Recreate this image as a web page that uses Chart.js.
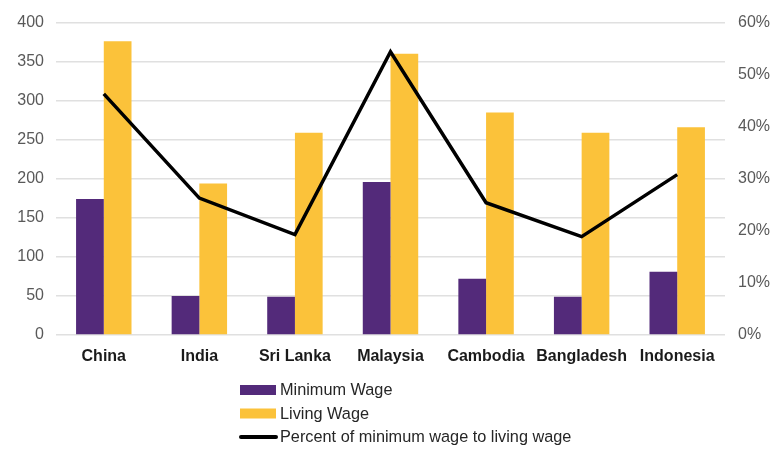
<!DOCTYPE html>
<html>
<head>
<meta charset="utf-8">
<script src="https://cdn.jsdelivr.net/npm/chart.js@4/dist/chart.umd.min.js"></script>
<style>
  html, body { margin: 0; padding: 0; background: #ffffff; }
  #wrap { width: 772px; height: 450px; position: relative; }
</style>
</head>
<body>
<div id="wrap"><canvas id="c" width="772" height="450"></canvas></div>
<script>
// Monthly wages by country (USD) and the share of the living wage that the minimum wage covers
const countries = ['China', 'India', 'Sri Lanka', 'Malaysia', 'Cambodia', 'Bangladesh', 'Indonesia'];
const minimumWage = [174, 50, 49, 196, 72, 49, 81];
const livingWage = [376, 194, 259, 360, 285, 259, 266];
const percentOfLiving = [46.3, 26.3, 19.3, 54.4, 25.4, 18.9, 30.8];

const leftTicks = [0, 50, 100, 150, 200, 250, 300, 350, 400];
const rightTicks = [0, 10, 20, 30, 40, 50, 60];

const FONT = '"Liberation Sans", Arial, sans-serif';

// Stacked legend drawn under the plot, one entry per row
const stackedLegend = {
  id: 'stackedLegend',
  afterDraw(chart) {
    const ctx = chart.ctx;
    const x0 = 240, rowH = 23.5, y0 = 390;
    ctx.save();
    ctx.font = '16.3px ' + FONT;
    ctx.textBaseline = 'middle';
    ctx.textAlign = 'left';
    chart.data.datasets.forEach((ds, i) => {
      const y = y0 + i * rowH;
      if (ds.type === 'line') {
        ctx.strokeStyle = ds.borderColor;
        ctx.lineWidth = 4;
        ctx.lineCap = 'round';
        ctx.beginPath();
        ctx.moveTo(x0 + 1, y);
        ctx.lineTo(x0 + 36, y);
        ctx.stroke();
      } else {
        ctx.fillStyle = ds.backgroundColor;
        ctx.fillRect(x0, y - 5, 36, 10);
      }
      ctx.fillStyle = '#262626';
      ctx.fillText(ds.label, x0 + 40, y + 1);
    });
    ctx.restore();
  }
};

new Chart(document.getElementById('c'), {
  data: {
    labels: countries,
    datasets: [
      {
        type: 'bar',
        label: 'Minimum Wage',
        data: minimumWage,
        backgroundColor: '#532a7a',
        yAxisID: 'y',
        order: 2,
        categoryPercentage: 0.58,
        barPercentage: 1.0
      },
      {
        type: 'bar',
        label: 'Living Wage',
        data: livingWage,
        backgroundColor: '#fbc23a',
        yAxisID: 'y',
        order: 2,
        categoryPercentage: 0.58,
        barPercentage: 1.0
      },
      {
        type: 'line',
        label: 'Percent of minimum wage to living wage',
        data: percentOfLiving,
        borderColor: '#000000',
        backgroundColor: '#000000',
        borderWidth: 3.5,
        tension: 0,
        pointRadius: 0,
        pointHoverRadius: 0,
        fill: false,
        yAxisID: 'y1',
        order: 1
      }
    ]
  },
  options: {
    responsive: false,
    animation: false,
    devicePixelRatio: 1,
    layout: { padding: { top: 22, left: 0, right: 0, bottom: 0 } },
    plugins: {
      legend: { display: false },
      tooltip: { enabled: false }
    },
    scales: {
      x: {
        grid: { display: false, drawTicks: false },
        border: { display: false },
        ticks: {
          color: '#1a1a1a',
          font: { family: FONT, size: 16, weight: 'bold' },
          padding: 12,
          maxRotation: 0,
          autoSkip: false
        },
        afterFit(scale) { scale.height = 115; }
      },
      y: {
        position: 'left',
        min: 0,
        max: 400,
        afterBuildTicks(scale) { scale.ticks = leftTicks.map(v => ({ value: v })); },
        grid: { color: '#e0e0e0', lineWidth: 1.5, drawTicks: false },
        border: { display: false },
        ticks: {
          color: '#595959',
          font: { family: FONT, size: 16 },
          padding: 12
        },
        afterFit(scale) { scale.width = 56; }
      },
      y1: {
        position: 'right',
        min: 0,
        max: 60,
        afterBuildTicks(scale) { scale.ticks = rightTicks.map(v => ({ value: v })); },
        grid: { display: false, drawTicks: false },
        border: { display: false },
        ticks: {
          color: '#595959',
          font: { family: FONT, size: 16 },
          padding: 13,
          callback: v => v + '%'
        },
        afterFit(scale) { scale.width = 47; }
      }
    }
  },
  plugins: [stackedLegend]
});
</script>
</body>
</html>
